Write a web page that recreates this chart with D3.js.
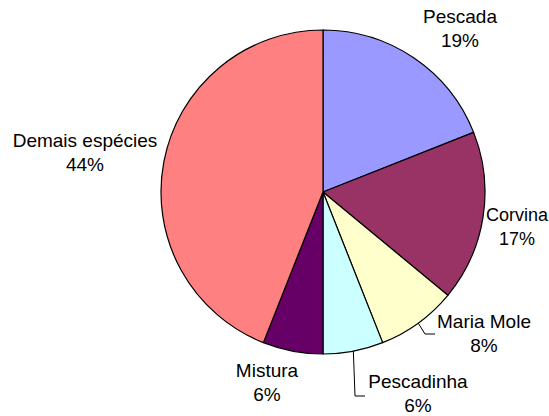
<!DOCTYPE html>
<html>
<head>
<meta charset="utf-8">
<script src="https://cdn.jsdelivr.net/npm/d3@7/dist/d3.min.js"></script>
<style>
  html, body { margin: 0; padding: 0; background: #fff; }
  svg { display: block; }
  text { font-family: "Liberation Sans", Arial, sans-serif; font-size: 19px; fill: #000; }
</style>
</head>
<body>
<svg id="chart" width="549" height="416"></svg>
<script>
// Species share of the catch (%)
const categories = ["Pescada", "Corvina", "Maria Mole", "Pescadinha", "Mistura", "Demais espécies"];
const shares = [19, 17, 8, 6, 6, 44];
const colors = ["#9999FF", "#993366", "#FFFFCC", "#CCFFFF", "#660066", "#FF8080"];

const W = 549, H = 416;
const cx = 323, cy = 192, R = 162;

const svg = d3.select("#chart");
const g = svg.append("g").attr("transform", `translate(${cx},${cy})`);

const pie = d3.pie().sort(null).value(d => d.v);
const arcs = pie(categories.map((c, i) => ({ c, v: shares[i], col: colors[i] })));
const arc = d3.arc().innerRadius(0).outerRadius(R);

g.selectAll("path.slice")
  .data(arcs)
  .join("path")
  .attr("class", "slice")
  .attr("d", arc)
  .attr("fill", d => d.data.col)
  .attr("stroke", "#000")
  .attr("stroke-width", 1.2)
  .attr("stroke-linejoin", "round");

// Label placement (centre x, baseline of first line, font size) in page coordinates
const labelPos = {
  "Pescada": [460, 23, 19],
  "Corvina": [517, 221, 18],
  "Maria Mole": [484, 328, 19],
  "Pescadinha": [418, 388, 19],
  "Mistura": [267, 377, 19],
  "Demais espécies": [85, 147, 19]
};
// Leader lines: elbow and end points for labels set away from their slice
const leaders = {
  "Maria Mole": [[425, 334], [435, 334]],
  "Pescadinha": [[355, 396], [365, 396]]
};

arcs.forEach(d => {
  const name = d.data.c;
  const mid = (d.startAngle + d.endAngle) / 2;
  if (leaders[name]) {
    const start = [cx + R * Math.sin(mid), cy - R * Math.cos(mid)];
    const pts = [start].concat(leaders[name]);
    svg.append("path")
      .attr("d", d3.line()(pts))
      .attr("fill", "none")
      .attr("stroke", "#000")
      .attr("stroke-width", 1);
  }
  const [lx, ly, fs] = labelPos[name];
  const t = svg.append("text").attr("text-anchor", "middle").style("font-size", fs + "px");
  t.append("tspan").attr("x", lx).attr("y", ly).text(name);
  t.append("tspan").attr("x", lx).attr("y", ly + 24).text(d3.format(".0f")(d.data.v) + "%");
});
</script>
</body>
</html>
